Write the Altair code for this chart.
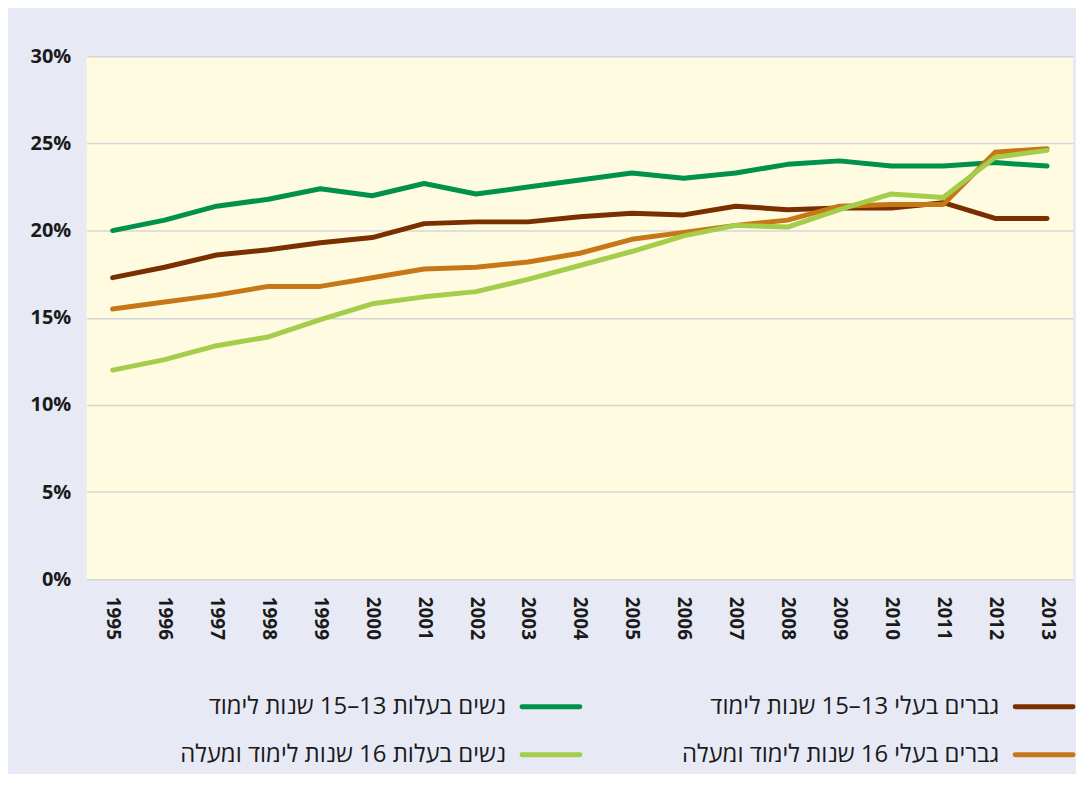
import altair as alt
import pandas as pd

years = [str(y) for y in range(1995, 2014)]

men_13_15 = [17.3, 17.9, 18.6, 18.9, 19.3, 19.6, 20.4, 20.5, 20.5, 20.8, 21.0, 20.9, 21.4, 21.2, 21.3, 21.3, 21.6, 20.7, 20.7]
women_13_15 = [20.0, 20.6, 21.4, 21.8, 22.4, 22.0, 22.7, 22.1, 22.5, 22.9, 23.3, 23.0, 23.3, 23.8, 24.0, 23.7, 23.7, 23.9, 23.7]
men_16 = [15.5, 15.9, 16.3, 16.8, 16.8, 17.3, 17.8, 17.9, 18.2, 18.7, 19.5, 19.9, 20.3, 20.6, 21.4, 21.5, 21.5, 24.5, 24.7]
women_16 = [12.0, 12.6, 13.4, 13.9, 14.9, 15.8, 16.2, 16.5, 17.2, 18.0, 18.8, 19.7, 20.3, 20.2, 21.2, 22.1, 21.9, 24.2, 24.6]

s_men_1315 = "גברים בעלי 13–15 שנות לימוד"
s_women_1315 = "נשים בעלות 13–15 שנות לימוד"
s_men_16 = "גברים בעלי 16 שנות לימוד ומעלה"
s_women_16 = "נשים בעלות 16 שנות לימוד ומעלה"

series_names = [s_women_1315, s_men_1315, s_men_16, s_women_16]
series_values = [women_13_15, men_13_15, men_16, women_16]
series_colors = ["#00924A", "#7A2F00", "#C87716", "#A3CD4B"]

rows = []
for name, vals in zip(series_names, series_values):
    for y, v in zip(years, vals):
        rows.append({"year": y, "value": v / 100, "series": name})
df = pd.DataFrame(rows)

color_scale = alt.Scale(domain=series_names, range=series_colors)

FONT = "Open Sans"

lines = alt.Chart(df).mark_line(strokeWidth=5, strokeCap="round", strokeJoin="round").encode(
    x=alt.X("year:O", title=None, sort=years,
            scale=alt.Scale(paddingInner=0, paddingOuter=0.5),
            axis=alt.Axis(labelAngle=90, labelFont=FONT, labelFontWeight="bold", labelFontSize=19,
                          labelColor="#1a1a1a", ticks=False, domain=False, labelPadding=17, grid=False)),
    y=alt.Y("value:Q", title=None, scale=alt.Scale(domain=[0, 0.3], nice=False),
            axis=alt.Axis(values=[0, 0.05, 0.1, 0.15, 0.2, 0.25, 0.3], format=".0%",
                          labelFont=FONT, labelFontWeight="bold", labelFontSize=20, labelColor="#1a1a1a",
                          ticks=False, domain=False, labelPadding=16,
                          grid=True, gridColor="#D6D6D6", gridWidth=1.5)),
    color=alt.Color("series:N", scale=color_scale, legend=None),
    detail="series:N",
).properties(width=990, height=525, view=alt.ViewBackground(fill="#FEFBE1", stroke=None))

# legend
leg_cols = ["women", "men"]
leg_rows = ["r1", "r2"]
leg_df = pd.DataFrame({
    "series": [s_women_1315, s_women_16, s_men_1315, s_men_16],
    "col": ["women", "women", "men", "men"],
    "row": ["r1", "r2", "r1", "r2"],
})

lx = alt.X("col:N", sort=leg_cols, axis=None, scale=alt.Scale(type="point", padding=0.5, align=1))
ly = alt.Y("row:N", sort=leg_rows, axis=None, scale=alt.Scale(type="point", padding=0.3125, align=0.8))

leg_sym = alt.Chart(leg_df).mark_rule(strokeWidth=5, strokeCap="round", xOffset=-58, x2Offset=0).encode(
    x=lx, x2="col:N", y=ly, color=alt.Color("series:N", scale=color_scale, legend=None)
)
leg_txt = alt.Chart(leg_df).mark_text(align="right", baseline="middle", dx=-74, font=FONT,
                                      fontSize=24, color="#1a1a1a").encode(
    x=lx, y=ly, text="series:N"
)
legend = alt.layer(leg_sym, leg_txt).properties(
    width=990, height=78, view=alt.ViewBackground(fill=None, stroke=None))

chart = alt.vconcat(lines, legend, spacing=104, bounds="flush").configure(
    background="#E7E9F5",
    padding={"left": 22, "top": 37, "right": 0, "bottom": 6},
).configure_view(stroke=None)

chart.save("out.html", embed_options={"renderer": "svg", "actions": False})
